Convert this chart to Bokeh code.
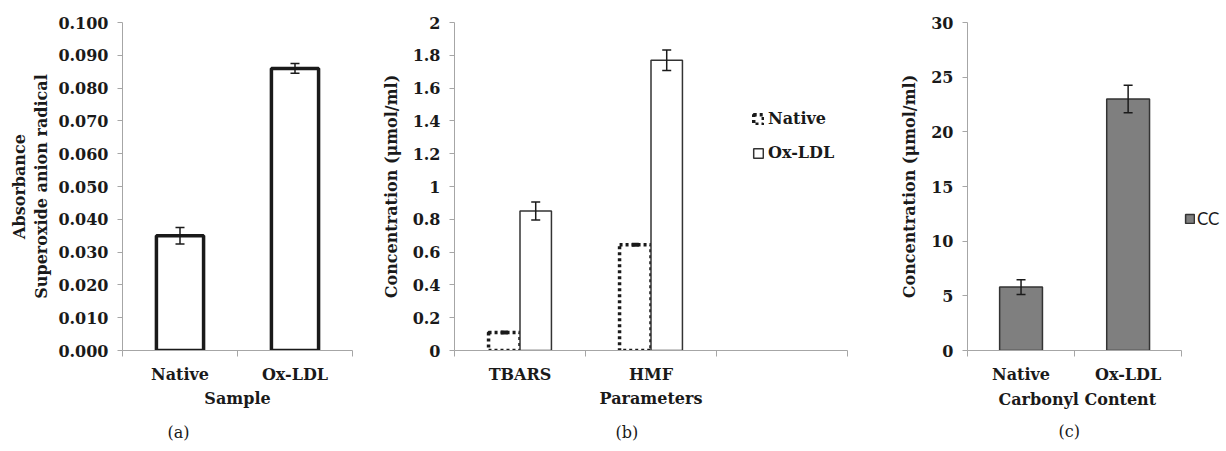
from bokeh.plotting import figure
from bokeh.models import (FixedTicker, Whisker, ColumnDataSource, Legend, LegendItem,
                          Title, TeeHead, Range1d)
from bokeh.layouts import row
from bokeh.embed import file_html
from bokeh.resources import INLINE

# ---------------- data ----------------
a_categories = ["Native", "Ox-LDL"]
a_values = [0.035, 0.086]
a_errors = [0.0025, 0.0015]
a_ticks = [0.0, 0.01, 0.02, 0.03, 0.04, 0.05, 0.06, 0.07, 0.08, 0.09, 0.1]
a_tick_labels = ["0.000", "0.010", "0.020", "0.030", "0.040", "0.050",
                 "0.060", "0.070", "0.080", "0.090", "0.100"]

b_categories = ["TBARS", "HMF", ""]
b_native = [0.11, 0.645]
b_native_err = [0.005, 0.005]
b_oxldl = [0.85, 1.77]
b_oxldl_err = [0.055, 0.063]
b_ticks = [0, 0.2, 0.4, 0.6, 0.8, 1, 1.2, 1.4, 1.6, 1.8, 2]
b_tick_labels = ["0", "0.2", "0.4", "0.6", "0.8", "1", "1.2", "1.4", "1.6", "1.8", "2"]

c_categories = ["Native", "Ox-LDL"]
c_values = [5.8, 23.0]
c_errors = [0.67, 1.25]
c_ticks = [0, 5, 10, 15, 20, 25, 30]
c_tick_labels = ["0", "5", "10", "15", "20", "25", "30"]

SERIF = "DejaVu Serif"
AXIS_GRAY = "#a6a6a6"


def make_fig(width, border_left, border_right, border_top, border_bottom,
             cats, ymax, ticks, tick_labels, xlabel, ylabel, ylabel_standoff, xmax=None):
    n = len(cats)
    p = figure(width=width, height=451, x_range=Range1d(0, xmax if xmax else n),
               y_range=Range1d(0, ymax),
               output_backend="svg", toolbar_location=None,
               min_border_left=border_left, min_border_right=border_right,
               min_border_top=border_top, min_border_bottom=border_bottom)
    p.grid.visible = False
    p.outline_line_color = None
    p.background_fill_color = "white"
    p.border_fill_color = "white"
    centers = [i + 0.5 for i in range(n)]
    p.xaxis.bounds = (0, n)
    p.xaxis.ticker = FixedTicker(ticks=centers, minor_ticks=list(range(n + 1)))
    p.xaxis.major_label_overrides = {c: t for c, t in zip(centers, cats)}
    p.xaxis.major_tick_out = 0
    p.xaxis.major_tick_in = 0
    p.xaxis.minor_tick_out = 6
    p.xaxis.minor_tick_in = 0
    p.xaxis.minor_tick_line_color = AXIS_GRAY
    p.xaxis.major_label_standoff = 8
    if xlabel:
        p.xaxis.axis_label = xlabel
    p.xaxis.axis_label_standoff = 2
    p.yaxis.ticker = FixedTicker(ticks=ticks)
    p.yaxis.major_label_overrides = {t: l for t, l in zip(ticks, tick_labels)}
    p.yaxis.major_tick_out = 5
    p.yaxis.major_tick_in = 0
    p.yaxis.minor_tick_line_color = None
    p.yaxis.major_label_standoff = 9
    p.yaxis.axis_label = ylabel
    p.yaxis.axis_label_standoff = ylabel_standoff
    for ax in (p.xaxis, p.yaxis):
        ax.axis_line_color = AXIS_GRAY
        ax.major_tick_line_color = AXIS_GRAY
        ax.major_label_text_font = SERIF
        ax.major_label_text_font_style = "bold"
        ax.major_label_text_font_size = "16px"
        ax.major_label_text_color = "#1a1a1a"
        ax.axis_label_text_font = SERIF
        ax.axis_label_text_font_style = "bold"
        ax.axis_label_text_font_size = "16px"
        ax.axis_label_text_color = "#1a1a1a"
    return p, centers


def add_caption(p, text, offset, standoff, bold=False):
    t = Title(text=text, align="left", offset=offset, standoff=standoff,
              text_font=SERIF, text_font_style="bold" if bold else "normal",
              text_font_size="16px", text_color="#1a1a1a")
    p.add_layout(t, "below")


def add_whisker(p, src, size, width, color="#1a1a1a"):
    p.add_layout(Whisker(source=src, base="x", upper="upper", lower="lower",
                         level="overlay", line_color=color, line_width=width,
                         upper_head=TeeHead(size=size, line_color=color, line_width=width),
                         lower_head=TeeHead(size=size, line_color=color, line_width=width)))


# ---------------- panel (a) ----------------
pa, ca = make_fig(370, 122, 18, 20, 100, a_categories, 0.1, a_ticks, a_tick_labels,
                  "Sample", "Absorbance\nSuperoxide anion radical", 4)
src_a = ColumnDataSource(dict(x=ca, top=a_values,
                              upper=[v + e for v, e in zip(a_values, a_errors)],
                              lower=[v - e for v, e in zip(a_values, a_errors)]))
pa.vbar(x="x", top="top", width=0.41, source=src_a, fill_color="white",
        line_color="#1a1a1a", line_width=3.5)
add_whisker(pa, src_a, 9, 1.5)
add_caption(pa, "(a)", 45, 20)

# ---------------- panel (b) ----------------
pb, cb = make_fig(510, 84, 33, 22, 97, b_categories, 2, b_ticks, b_tick_labels,
                  "Parameters", "Concentration (μmol/ml)", 9)
xb = cb[:len(b_native)]
src_bn = ColumnDataSource(dict(x=[x - 0.12 for x in xb], top=b_native,
                               upper=[v + e for v, e in zip(b_native, b_native_err)],
                               lower=[v - e for v, e in zip(b_native, b_native_err)]))
src_bo = ColumnDataSource(dict(x=[x + 0.12 for x in xb], top=b_oxldl,
                               upper=[v + e for v, e in zip(b_oxldl, b_oxldl_err)],
                               lower=[v - e for v, e in zip(b_oxldl, b_oxldl_err)]))
rn = pb.vbar(x="x", top="top", width=0.24, source=src_bn, fill_color="white",
             line_color="#1a1a1a", line_width=3.5, line_dash="3 3")
ro = pb.vbar(x="x", top="top", width=0.24, source=src_bo, fill_color="white",
             line_color="#333333", line_width=1.5)
add_whisker(pb, src_bn, 7, 2.5)
add_whisker(pb, src_bo, 9, 1.5)
leg_b = Legend(items=[LegendItem(label="Native", renderers=[rn]),
                      LegendItem(label="Ox-LDL", renderers=[ro])],
               location=(298, 188), orientation="vertical",
               glyph_width=12, glyph_height=12, label_height=14, spacing=15,
               padding=0, margin=0, border_line_color=None,
               background_fill_alpha=0, label_standoff=4,
               label_text_font=SERIF, label_text_font_style="bold",
               label_text_font_size="16px", label_text_color="#1a1a1a")
pb.add_layout(leg_b)
add_caption(pb, "(b)", 161, 20)

# ---------------- panel (c) ----------------
pc, cc = make_fig(346, 87, 2, 18, 98, c_categories, 30, c_ticks, c_tick_labels,
                  None, "Concentration (μmol/ml)", 9, xmax=2.4)
src_c = ColumnDataSource(dict(x=cc, top=c_values,
                              upper=[v + e for v, e in zip(c_values, c_errors)],
                              lower=[v - e for v, e in zip(c_values, c_errors)]))
rc = pc.vbar(x="x", top="top", width=0.4, source=src_c, fill_color="#7f7f7f",
             line_color="#333333", line_width=1.5)
add_whisker(pc, src_c, 9, 1.5)
leg_c = Legend(items=[LegendItem(label="CC", renderers=[rc])],
               location=(217, 121), glyph_width=11, glyph_height=11, label_height=14,
               padding=0, margin=0, border_line_color=None, background_fill_alpha=0,
               label_standoff=2, label_text_font="Lato", label_text_font_size="17px",
               label_text_color="#1a1a1a")
pc.add_layout(leg_c)
add_caption(pc, "Carbonyl Content", 31, 2, bold=True)
add_caption(pc, "(c)", 91, 20)

layout = row(pa, pb, pc)
open("out.html", "w").write(file_html(layout, INLINE))
